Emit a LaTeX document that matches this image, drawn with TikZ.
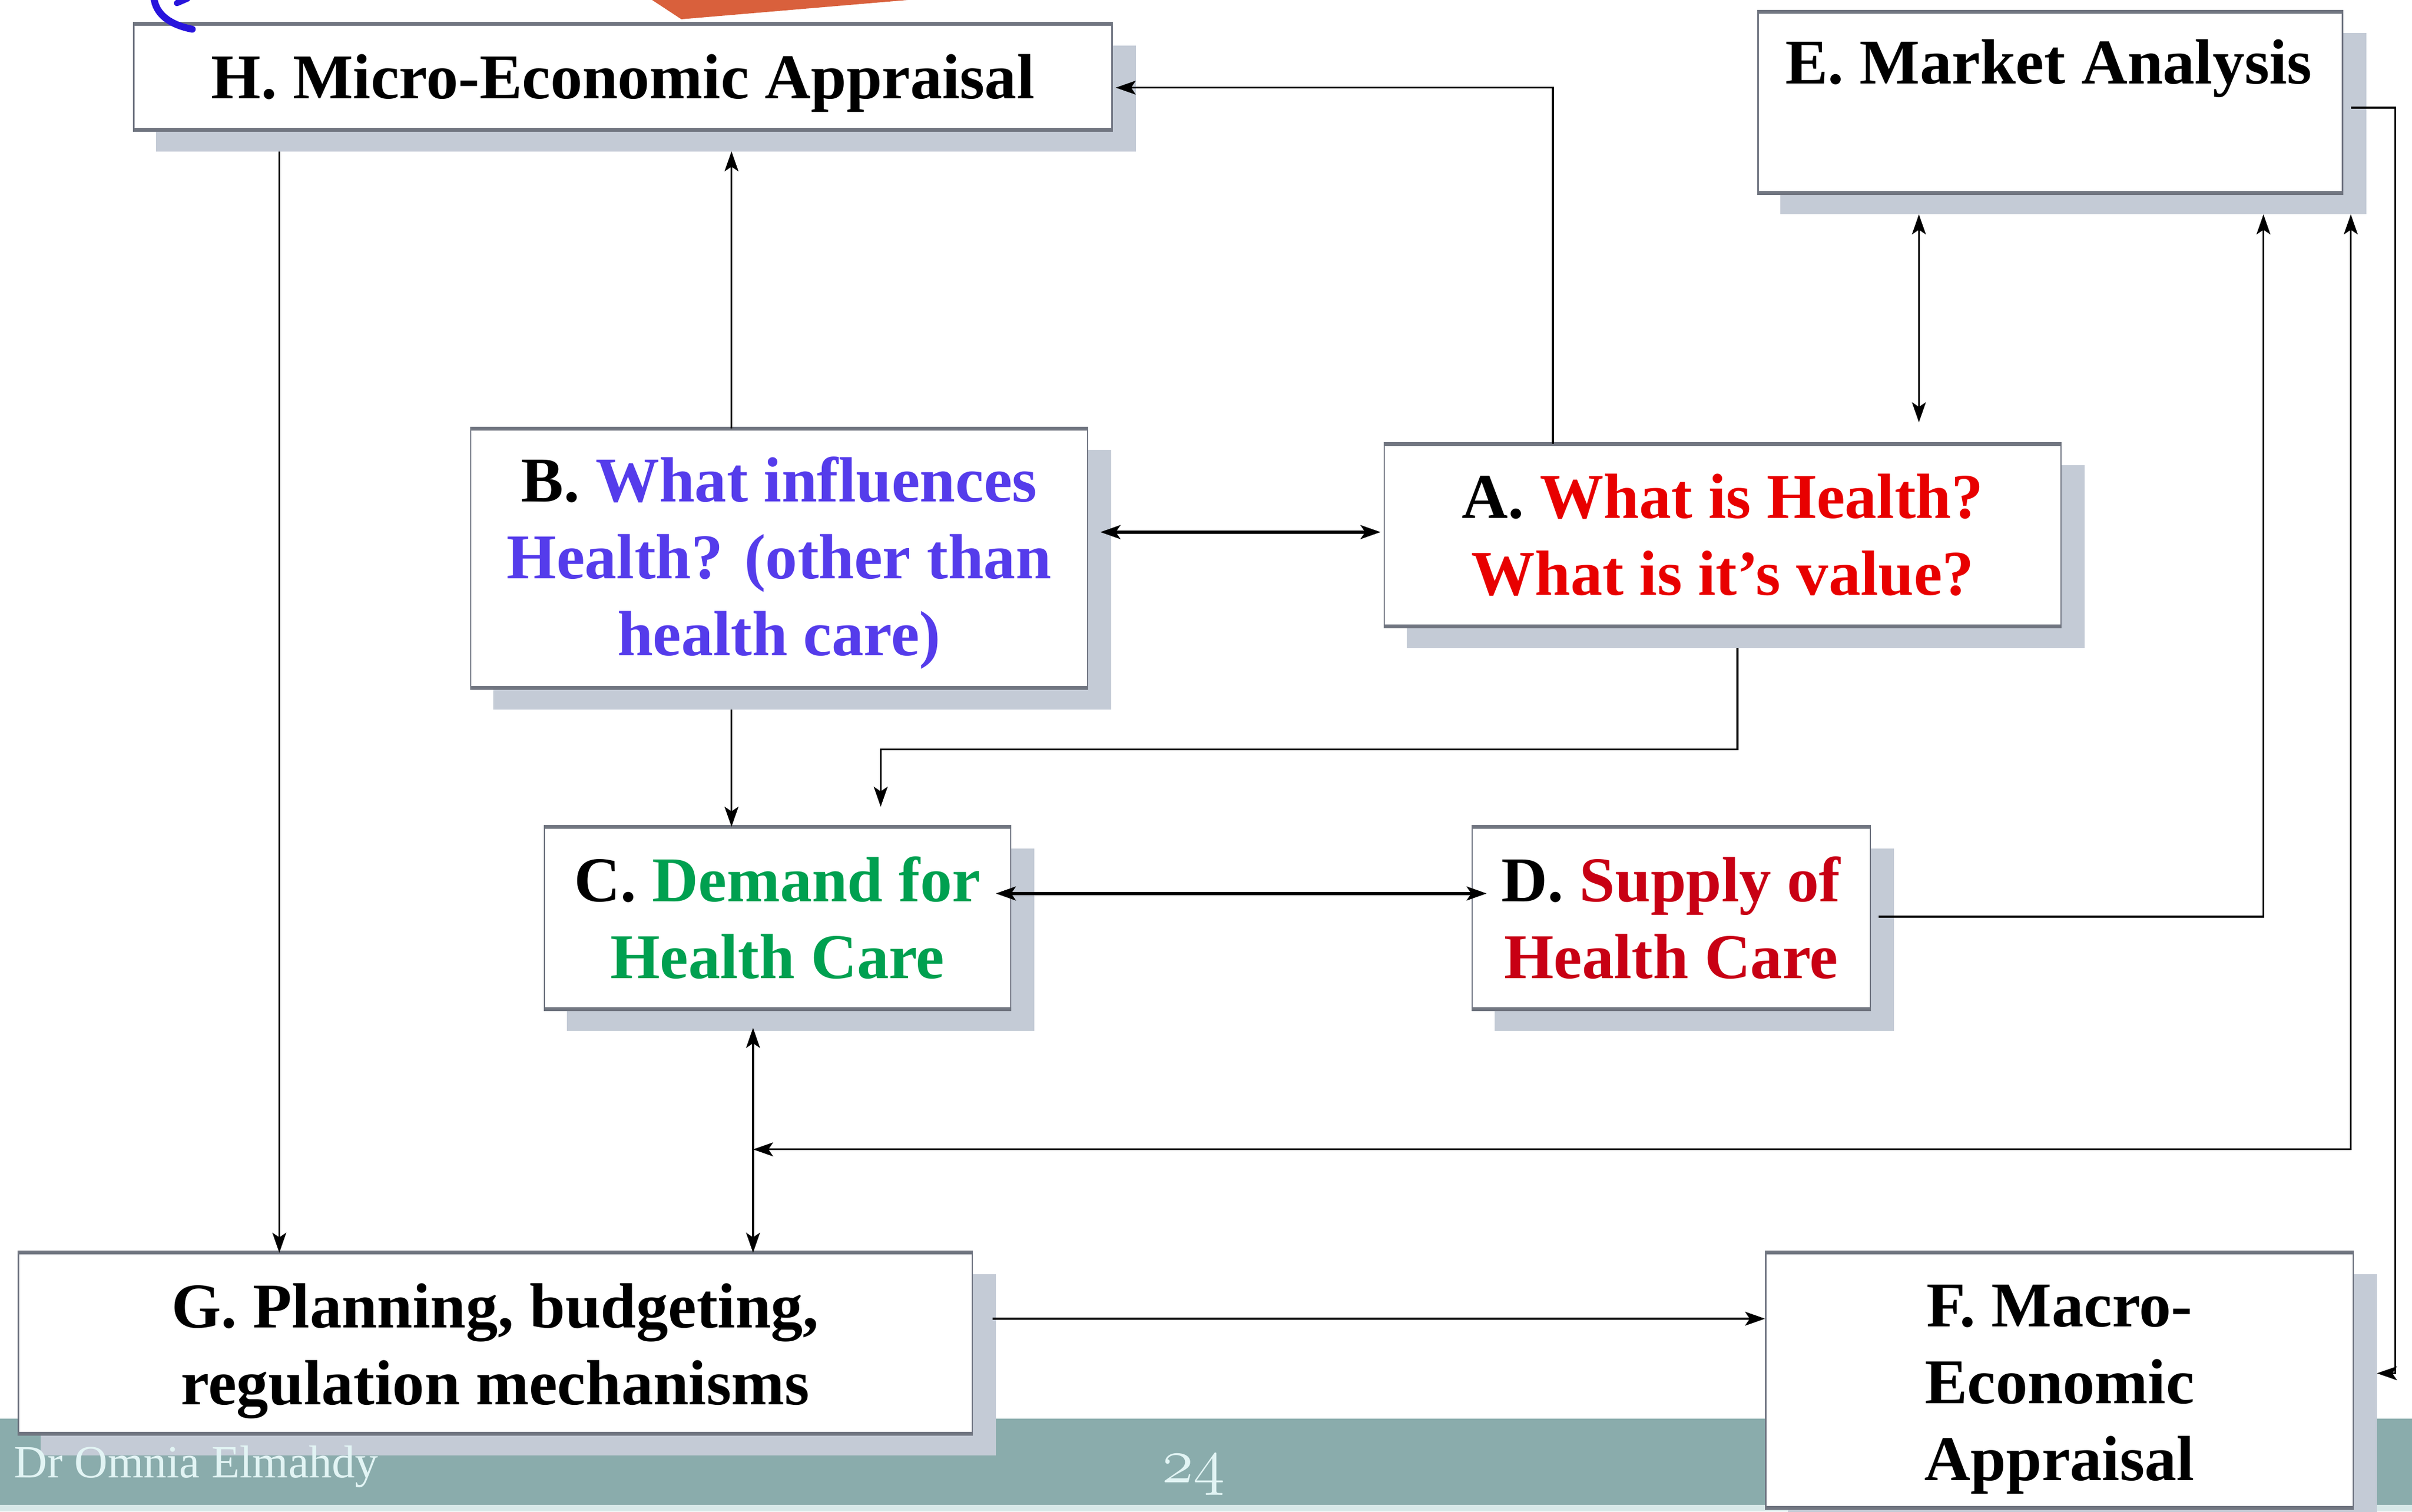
\documentclass[tikz,border=0pt]{standalone}
\usepackage{fontspec}
\setmainfont{Liberation Serif}
\usetikzlibrary{arrows.meta,calc}
\definecolor{blueT}{RGB}{85,60,235}
\definecolor{redA}{RGB}{232,0,0}
\definecolor{redD}{RGB}{200,0,20}
\definecolor{greenC}{RGB}{0,160,80}
\definecolor{shadowc}{RGB}{196,203,214}
\definecolor{boxborder}{RGB}{110,115,128}
\definecolor{bandc}{RGB}{112,117,128}
\definecolor{footc}{RGB}{138,172,172}
\definecolor{footlight}{RGB}{215,232,232}
\definecolor{footT}{RGB}{226,244,244}
\definecolor{orangec}{RGB}{217,96,60}
\definecolor{arcblue}{RGB}{40,20,220}
\pgfdeclarelayer{layerbar}
\pgfdeclarelayer{layershadow}
\pgfsetlayers{layerbar,layershadow,main}
\tikzset{
  box/.style={draw=boxborder, line width=0.8pt, fill=white, inner sep=0pt},
  boxtext/.style={inner sep=0pt, align=center, font=\fontsize{41.5}{50}\selectfont\bfseries},
  edgeband/.style={draw=bandc, line width=2.5pt},
  conn/.style={draw=black, line width=1.2pt},
  connthick/.style={draw=black, line width=2pt},
  tip/.style={-{Stealth[length=13pt,width=9pt,inset=3pt]}},
  tips/.style={{Stealth[length=13pt,width=9pt,inset=3pt]}-{Stealth[length=13pt,width=9pt,inset=3pt]}},
  foottext/.style={inner sep=0pt, text=footT}
}
\begin{document}
\begin{tikzpicture}[x=1pt,y=-1pt]
\useasboundingbox (0,0) rectangle (1568.2,982.9);
\begin{pgfonlayer}{layerbar}
  \fill[white] (0,0) rectangle (1568.2,982.9);
  \fill[footc] (0,922.5) rectangle (1568.2,978.6);
  \fill[footlight] (0,978.6) rectangle (1568.2,982.9);
  \fill[orangec] (424,0) -- (443,12.5) -- (590,0) -- cycle;
\end{pgfonlayer}

% boxes
\node[box, minimum width=636pt, minimum height=68pt] (H) at (405,50) {};
\node[box, minimum width=380pt, minimum height=117pt] (E) at (1333,66.5) {};
\node[box, minimum width=401pt, minimum height=168pt] (B) at (506.5,363) {};
\node[box, minimum width=440pt, minimum height=118pt] (A) at (1120,348) {};
\node[box, minimum width=303pt, minimum height=118pt] (C) at (505.5,597) {};
\node[box, minimum width=259pt, minimum height=118pt] (D) at (1086.5,597) {};
\node[box, minimum width=620pt, minimum height=117pt] (G) at (322,873.5) {};
\node[box, minimum width=382pt, minimum height=165pt] (F) at (1339,897.5) {};

\foreach \n in {H,E,B,A,C,D,G,F}{
  \draw[edgeband] (\n.north west) -- (\n.north east);
  \draw[edgeband] (\n.south west) -- (\n.south east);
}
\begin{pgfonlayer}{layershadow}
\foreach \n in {H,E,B,A,C,D,G,F}
  \fill[shadowc] ([shift={(15,14)}]\n.north west) rectangle ([shift={(15,14)}]\n.south east);
\end{pgfonlayer}

% texts
\node[boxtext] (Ht) at ($(H.center)+(0,4)$) {H. Micro-Economic Appraisal};
\node[boxtext, anchor=base] (Et) at ($(E.north)+(-1,47)$) {E. Market Analysis};
\node[boxtext] (Bt) at ($(B.center)+(0,3)$)
  {B. \textcolor{blueT}{What influences}\\\textcolor{blueT}{Health? (other than}\\\textcolor{blueT}{health care)}};
\node[boxtext] (At) at (A.center)
  {A. \textcolor{redA}{What is Health?}\\\textcolor{redA}{What is it's value?}};
\node[boxtext] (Ct) at (C.center)
  {C. \textcolor{greenC}{Demand for}\\\textcolor{greenC}{Health Care}};
\node[boxtext] (Dt) at (D.center)
  {D. \textcolor{redD}{Supply of}\\\textcolor{redD}{Health Care}};
\node[boxtext] (Gt) at ($(G.center)+(0,5)$)
  {G. Planning, budgeting,\\regulation mechanisms};
\node[boxtext] (Ft) at ($(F.center)+(0,6)$)
  {F. Macro-\\Economic\\Appraisal};

% hand-drawn fragments at the top edge
\draw[arcblue, line width=4.5pt, line cap=round] (100,-2) .. controls (101,9) and (110,16) .. (125,19);
\draw[arcblue, line width=4pt, line cap=round] (115,2) -- (122,-1);

% footer text
\node[foottext, anchor=base west, font=\fontsize{30}{32}\selectfont] (foot1) at (9,961) {Dr Omnia Elmahdy};
\node[foottext, anchor=base] (pg) at (776,964)
  {\scalebox{1.69}{\fontsize{24.88}{26}\usefont{OML}{cmm}{m}{it}24}};

% connectors
\draw[conn,tip] ($(H.south west)+(95,14)$) -- ($(G.north west)+(170,0)$);
\draw[conn,tip] ($(B.north west)+(170,0)$) -- ($(H.south west)+(389,14)$);
\draw[conn,tip] ($(A.north west)+(110,0)$) |- ($(H.east)+(2,7)$);
\draw[connthick,tips] ($(B.east)+(8,-17)$) -- ($(A.west)+(-2,-2)$);
\draw[conn,tips] ($(E.south west)+(105,14)$) -- ($(A.north west)+(348,-14)$);
\draw[conn,tip] ($(A.south west)+(230,14)$) -- ++(0,66) -| ($(C.north west)+(219,-13)$);
\draw[conn,tip] ($(B.south west)+(170,14)$) -- ($(C.north west)+(122,0)$);
\draw[connthick,tips] ($(C.east)+(-10,-16)$) -- ($(D.west)+(10,-16)$);
\draw[conn,tip] ($(D.east)+(5,-1)$) -| ($(E.south west)+(329,14)$);
\draw[conn,tips] ($(C.south west)+(136,12)$) -- ($(G.north west)+(478,0)$);
\coordinate (J) at ($(C.south west)+(136,91)$);
\draw[conn,tips] (J) -| ($(E.south east)+(5,14)$);
\draw[conn,tip] ($(G.east)+(13,-16)$) coordinate (g1) -- (g1 -| F.west);
\draw[conn,tip] ($(E.east)+(5,3.5)$) -- ++(29,0) |- ($(F.east)+(15,-4.5)$);
\end{tikzpicture}
\end{document}
